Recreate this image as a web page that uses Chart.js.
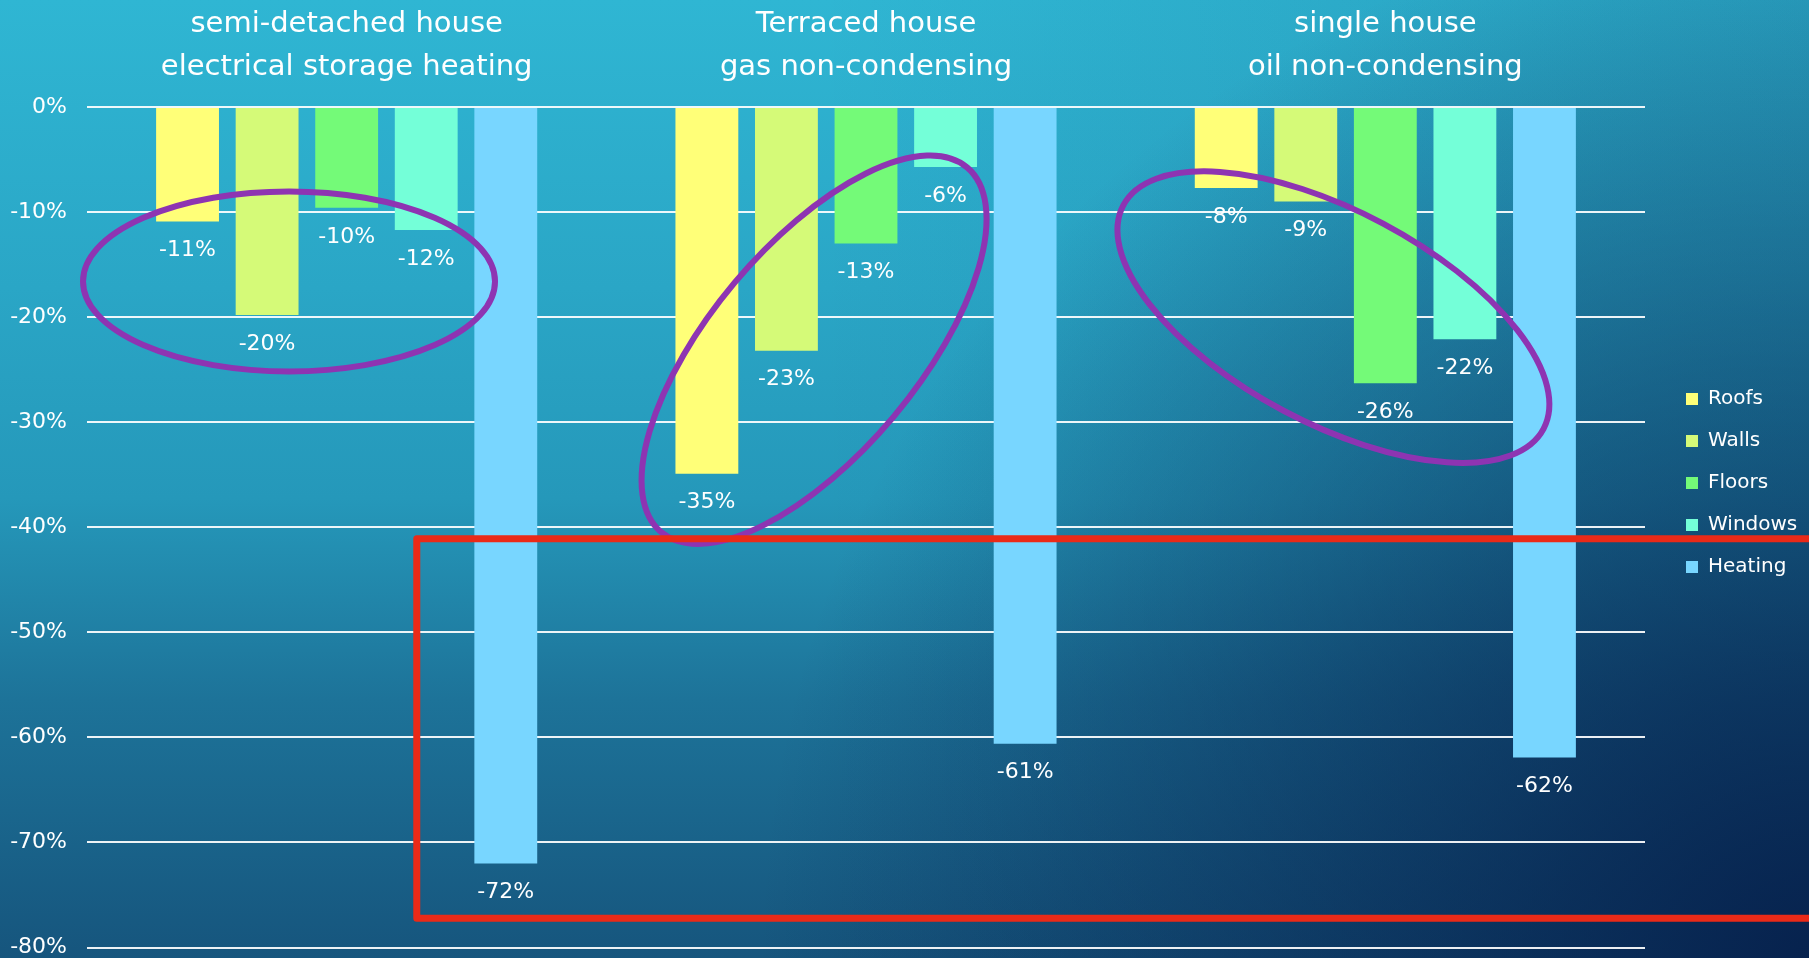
<!DOCTYPE html>
<html>
<head>
<meta charset="utf-8">
<script src="https://cdn.jsdelivr.net/npm/chart.js@4"></script>
<style>
  html, body { margin: 0; padding: 0; overflow: hidden; }
  body {
    width: 1809px; height: 958px;
    background:
      radial-gradient(circle at 100% 100%, rgba(6,32,76,0.95) 0px, rgba(6,32,76,0.62) 350px, rgba(6,32,76,0.3) 700px, rgba(6,32,76,0) 1050px),
      linear-gradient(to right, rgba(6,32,76,0) 45%, rgba(6,32,76,0.14) 100%),
      linear-gradient(to bottom, #2fb6d3 0%, #2aa6c6 30%, #2598ba 52%, #1d7399 73%, #16557d 100%);
  }
  .wrap { position: relative; width: 1809px; height: 958px; }
</style>
</head>
<body>
<div class="wrap"><canvas id="graficoAhorro"></canvas></div>
<script>
// categorias (dos lineas cada una)
const categorias = [
    ['semi-detached house', 'electrical storage heating'],
    ['Terraced house', 'gas non-condensing'],
    ['single house', 'oil non-condensing']
];

const series = ['Roofs', 'Walls', 'Floors', 'Windows', 'Heating'];

const roofs = [-10.9, -34.9, -7.7];
const walls = [-19.8, -23.2, -9.0];
const floors = [-9.6, -13.0, -26.3];
const windows = [-11.7, -5.7, -22.1];
const heating = [-72.0, -60.6, -61.9];

const colores = ['#ffff78', '#d5fa78', '#74fa78', '#74ffd8', '#78d6ff'];

const ticksY = [0, -10, -20, -30, -40, -50, -60, -70, -80];

const fuente = '"DejaVu Sans", sans-serif';

Chart.defaults.font.family = fuente;
Chart.defaults.color = '#ffffff';

// elipses y recuadro dibujados encima (centro en coordenadas de datos)
const elipses = [
    { x: -0.111, y: -16.6, rx: 206, ry: 90, rot: 0 },
    { x: 0.9, y: -23.1, rx: 238, ry: 104, rot: -50 },
    { x: 1.9, y: -20.0, rx: 238, ry: 106, rot: 28 }
];
const recuadro = { x1: 0.135, x2: 2.95, y1: -41.1, y2: -77.2 };

const etiquetasBarras = {
    id: 'etiquetasBarras',
    afterDatasetsDraw(chart) {
        const ctx = chart.ctx;
        ctx.save();
        ctx.fillStyle = '#ffffff';
        ctx.font = '22px ' + fuente;
        ctx.textAlign = 'center';
        ctx.textBaseline = 'middle';
        chart.data.datasets.forEach((ds, i) => {
            chart.getDatasetMeta(i).data.forEach((bar, j) => {
                ctx.fillText(Math.round(ds.data[j]) + '%', bar.x, bar.y + 29);
            });
        });
        ctx.restore();
    }
};

const marcas = {
    id: 'marcas',
    afterDraw(chart) {
        const ctx = chart.ctx;
        const sx = chart.scales.x;
        const sy = chart.scales.y;
        ctx.save();
        ctx.strokeStyle = '#8e34b2';
        ctx.lineWidth = 6;
        elipses.forEach(e => {
            ctx.beginPath();
            ctx.ellipse(sx.getPixelForValue(e.x), sy.getPixelForValue(e.y), e.rx, e.ry, e.rot * Math.PI / 180, 0, Math.PI * 2);
            ctx.stroke();
        });
        const x1 = sx.getPixelForValue(recuadro.x1);
        const x2 = sx.getPixelForValue(recuadro.x2);
        const y1 = sy.getPixelForValue(recuadro.y1);
        const y2 = sy.getPixelForValue(recuadro.y2);
        ctx.strokeStyle = '#ea2a18';
        ctx.lineWidth = 7;
        ctx.lineJoin = 'round';
        ctx.strokeRect(x1, y1, x2 - x1, y2 - y1);
        ctx.restore();
    }
};

// leyenda con ancho fijo a la derecha
const ANCHO_LEYENDA = 164;
const DESPLAZA_LEYENDA = 19;
const BAJA_LEYENDA = 4;
const leyendaFija = {
    id: 'leyendaFija',
    beforeUpdate(chart) {
        const lg = chart.legend;
        if (lg && !lg._fijo) {
            const fit = lg.fit;
            lg.fit = function () {
                fit.call(this);
                this.width = ANCHO_LEYENDA;
            };
            lg._fijo = true;
        }
    },
    afterLayout(chart) {
        chart.legend.left += DESPLAZA_LEYENDA;
        chart.legend.top += BAJA_LEYENDA;
        chart.legend.bottom += BAJA_LEYENDA;
    }
};

const datos = [roofs, walls, floors, windows, heating];

new Chart(document.getElementById('graficoAhorro'), {
    type: 'bar',
    data: {
        labels: categorias,
        datasets: series.map((nombre, i) => ({
            label: nombre,
            data: datos[i],
            backgroundColor: colores[i],
            borderWidth: 0,
            categoryPercentage: 0.766,
            barPercentage: 0.79
        }))
    },
    options: {
        responsive: true,
        maintainAspectRatio: false,
        animation: false,
        layout: {
            padding: { left: 0, right: 0, top: 0, bottom: 0 }
        },
        plugins: {
            legend: {
                position: 'right',
                labels: {
                    boxWidth: 12,
                    boxHeight: 12,
                    padding: 22,
                    color: '#ffffff',
                    font: { size: 20 }
                }
            },
            tooltip: { enabled: false }
        },
        scales: {
            x: {
                position: 'top',
                grid: { display: false, drawTicks: false },
                border: { display: false },
                ticks: {
                    color: '#ffffff',
                    padding: 18,
                    maxRotation: 0,
                    autoSkip: false,
                    font: { size: 29, lineHeight: 1.48 }
                },
                afterFit(scale) { scale.height = 107; }
            },
            y: {
                min: ticksY[ticksY.length - 1],
                max: ticksY[0],
                afterBuildTicks(scale) { scale.ticks = ticksY.map(v => ({ value: v })); },
                grid: {
                    color: 'rgba(255,255,255,0.92)',
                    lineWidth: 2,
                    drawTicks: true,
                    tickLength: 20,
                    tickColor: 'rgba(0,0,0,0)'
                },
                border: { display: false },
                ticks: {
                    color: '#ffffff',
                    padding: 0,
                    font: { size: 22, lineHeight: 0.95 },
                    callback: value => value + '%'
                },
                afterFit(scale) { scale.width = 87; }
            }
        }
    },
    plugins: [etiquetasBarras, marcas, leyendaFija]
});
</script>
</body>
</html>
